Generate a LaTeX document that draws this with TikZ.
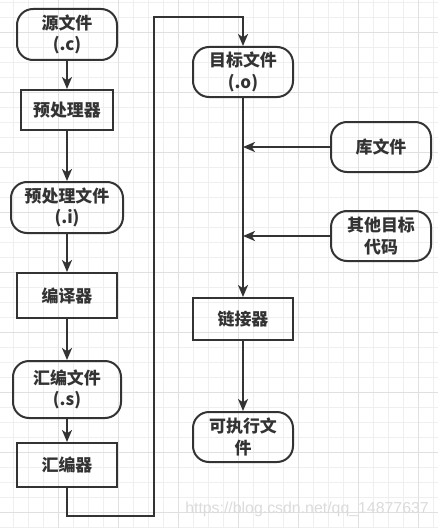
\documentclass[tikz,border=0pt]{standalone}
\usepackage{fontspec}
\setmainfont{Noto Sans CJK SC}
\newfontfamily\wmfont{Liberation Sans}
\usetikzlibrary{arrows.meta}
\definecolor{ink}{HTML}{333333}
\definecolor{gridminor}{HTML}{EFEFEF}
\definecolor{gridmajor}{HTML}{E0E0E0}
\begin{document}
\begin{tikzpicture}[x=0.75pt,y=-0.75pt,
  base/.style={draw=ink, line width=1.5pt, inner sep=0pt, align=center, text=ink,
    font=\bfseries\fontsize{12.7}{16.2}\selectfont},
  term/.style={base, rounded corners=12pt},
  proc/.style={base},
  flow/.style={draw=ink, line width=1.5pt, -{Stealth[length=9pt,width=7.5pt,inset=2.5pt]}},
  plain/.style={draw=ink, line width=1.5pt}]
\useasboundingbox (0,0) rectangle (438,528);
\fill[white] (0,0) rectangle (438,528);
% grid
\foreach \k in {1,...,29} \draw[gridminor, line width=0.75pt] (-1.7+15*\k,0) -- (-1.7+15*\k,528);
\foreach \k in {0,...,35} \draw[gridminor, line width=0.75pt] (0,2.3+15*\k) -- (438,2.3+15*\k);
\foreach \k in {1,...,7} \draw[gridmajor, line width=0.75pt] (-1.7+60*\k,0) -- (-1.7+60*\k,528);
\foreach \k in {0,...,8} \draw[gridmajor, line width=0.75pt] (0,32.3+60*\k) -- (438,32.3+60*\k);

% left column
\node[term, minimum width=75pt, minimum height=38.25pt] (src) at (67,34.5) {源文件\\(.c)};
\node[proc, minimum width=69pt, minimum height=30pt] (pre) at (67,110) {预处理器};
\node[term, minimum width=84pt, minimum height=38.25pt] (prei) at (67,207.5) {预处理文件\\(.i)};
\node[proc, minimum width=75pt, minimum height=33.75pt] (comp) at (67,295.5) {编译器};
\node[term, minimum width=81pt, minimum height=42.75pt] (asmf) at (67,389.5) {汇编文件\\(.s)};
\node[proc, minimum width=75pt, minimum height=33pt] (asm) at (67,465) {汇编器};

% right column
\node[term, minimum width=75pt, minimum height=37.5pt] (obj) at (243,72) {目标文件\\(.o)};
\node[term, minimum width=75pt, minimum height=37.5pt] (lib) at (381,147) {库文件};
\node[term, minimum width=75pt, minimum height=37.5pt] (other) at (381,236) {其他目标\\代码};
\node[proc, minimum width=75pt, minimum height=31.5pt] (link) at (243,319) {链接器};
\node[term, minimum width=75pt, minimum height=37.5pt] (exe) at (243,437) {可执行文\\件};

\coordinate (c1) at (67,516);
\coordinate (c2) at (154,516);
\coordinate (c3) at (154,17);
\coordinate (c4) at (243,17);

\draw[flow] (src) -- (pre);
\draw[flow] (pre) -- (prei);
\draw[flow] (prei) -- (comp);
\draw[flow] (comp) -- (asmf);
\draw[flow] (asmf) -- (asm);
\draw[flow] (asm.south) -- (c1) -- (c2) -- (c3) -- (c4) -- (obj.north);
\draw[flow] (obj) -- (link);
\draw[flow] (lib.west) -- (lib.west -| obj);
\draw[flow] (other.west) -- (other.west -| obj);
\draw[flow] (link) -- (exe);

\node[text=black!14, font=\wmfont\fontsize{11.9}{13}\selectfont, anchor=west, inner sep=0pt] (wm) at (185,509) {https://blog.csdn.net/qq\_14877637};
\end{tikzpicture}
\end{document}
